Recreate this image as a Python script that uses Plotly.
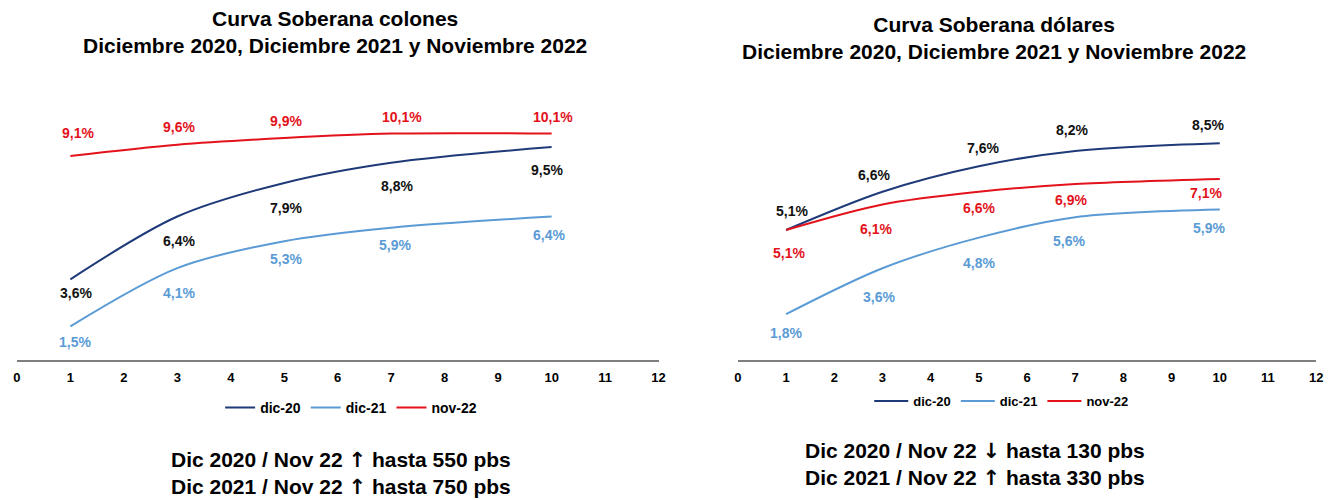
import plotly.graph_objects as go

plazos = [1, 3, 5, 7, 10]
x_ticks = list(range(0, 13))

# Curva colones
col_dic20 = [3.6, 6.4, 7.9, 8.8, 9.5]
col_dic21 = [1.5, 4.1, 5.3, 5.9, 6.4]
col_nov22 = [9.1, 9.6, 9.9, 10.1, 10.1]

# Curva dólares
usd_dic20 = [5.1, 6.6, 7.6, 8.2, 8.5]
usd_dic21 = [1.8, 3.6, 4.8, 5.6, 5.9]
usd_nov22 = [5.1, 6.1, 6.6, 6.9, 7.1]

series_names = ["dic-20", "dic-21", "nov-22"]
line_colors = ["#1f3a78", "#5b9bd5", "#e3121b"]
label_colors = ["#111111", "#5b9bd5", "#e3121b"]

# label placement (pixels, style only)
left_dy = [[-14, -24, -25, -23, -23],
           [-16, -25, -18, -17, -18],
           [23, 18, 17, 17, 17]]
left_dx = [[6, 2, 2, 6, -5], [5, 2, 2, 4, -3], [8, 2, 2, 11, 1]]
right_dy = [[19, 17, 18, 21, 18],
            [-19, -29, -25, -24, -18],
            [-23, -25, -16, -16, -14]]
right_dx = [[6, -8, 4, -3, -12], [0, -3, 0, -6, -11], [3, -6, 0, -4, -14]]

FONT = "Liberation Sans, DejaVu Sans, Arial, sans-serif"
UP = "<span style='font-family:DejaVu Sans'>↑</span>"
DOWN = "<span style='font-family:DejaVu Sans'>↓</span>"

fig = go.Figure()


def fmt(v):
    return f"{v:.1f}".replace(".", ",") + "%"


left = [col_dic20, col_dic21, col_nov22]
right = [usd_dic20, usd_dic21, usd_nov22]

annotations = []
for panel, (data, xa, ya, lg, dys, dxs) in enumerate([
        (left, "x", "y", "legend", left_dy, left_dx),
        (right, "x2", "y2", "legend2", right_dy, right_dx)]):
    for i, (name, vals) in enumerate(zip(series_names, data)):
        fig.add_trace(go.Scatter(x=plazos, y=vals, mode="lines", name=name,
                                 line=dict(color=line_colors[i], width=2, shape="spline", smoothing=0.9),
                                 xaxis=xa, yaxis=ya, legend=lg, hoverinfo="skip"))
        for j, (xx, yy) in enumerate(zip(plazos, vals)):
            annotations.append(dict(x=xx, y=yy, xref=xa, yref=ya, text="<b>" + fmt(yy) + "</b>",
                                    showarrow=False, yshift=dys[i][j], xshift=dxs[i][j],
                                    font=dict(family=FONT, size=14, color=label_colors[i])))

# Titles and summary text (y given in pixels from the top)
annotations += [
    dict(x=334 / 1340, y=32 / 500, xref="paper", yref="paper", showarrow=False,
         text="<b>Curva Soberana colones<br>Diciembre 2020, Diciembre 2021 y Noviembre 2022</b>",
         font=dict(family=FONT, size=21, color="#000"), xanchor="center", yanchor="middle"),
    dict(x=998 / 1340, y=38 / 500, xref="paper", yref="paper", showarrow=False,
         text="<b>Curva Soberana dólares<br>Diciembre 2020, Diciembre 2021 y Noviembre 2022</b>",
         font=dict(family=FONT, size=21, color="#000"), xanchor="center", yanchor="middle"),
    dict(x=340 / 1340, y=473.5 / 500, xref="paper", yref="paper", showarrow=False,
         text=f"<b>Dic 2020 / Nov 22 {UP} hasta 550 pbs<br>Dic 2021 / Nov 22 {UP} hasta 750 pbs</b>",
         font=dict(family=FONT, size=21, color="#000"), xanchor="center", yanchor="middle"),
    dict(x=979 / 1340, y=464.5 / 500, xref="paper", yref="paper", showarrow=False,
         text=f"<b>Dic 2020 / Nov 22 {DOWN} hasta 130 pbs<br>Dic 2021 / Nov 22 {UP} hasta 330 pbs</b>",
         font=dict(family=FONT, size=21, color="#000"), xanchor="center", yanchor="middle"),
]
for a in annotations:
    if a.get("yref") == "paper":
        a["y"] = 1 - a["y"]

xaxis_common = dict(range=[0, 12], tickvals=x_ticks, showgrid=False, zeroline=False,
                    showline=True, linecolor="#7f7f7f", linewidth=1.5, ticks="",
                    ticklabelstandoff=5,
                    tickfont=dict(family=FONT, size=13, color="#000", weight="bold"),
                    fixedrange=True)
yaxis_common = dict(showgrid=False, zeroline=False, showline=False, showticklabels=False,
                    fixedrange=True)

fig.update_layout(
    width=1340, height=500,
    margin=dict(l=0, r=0, t=0, b=0),
    paper_bgcolor="white", plot_bgcolor="white",
    showlegend=True,
    xaxis=dict(domain=[13 / 1340, 660 / 1340], anchor="y", **xaxis_common),
    yaxis=dict(domain=[140 / 500, 409 / 500], range=[0, 12], anchor="x", **yaxis_common),
    xaxis2=dict(domain=[740 / 1340, 1323 / 1340], anchor="y2", **xaxis_common),
    yaxis2=dict(domain=[140 / 500, 409 / 500], range=[0, 10.55], anchor="x2", **yaxis_common),
    legend=dict(orientation="h", x=350 / 1340, xanchor="center", y=1 - 408 / 500, yanchor="middle",
                font=dict(family=FONT, size=14, color="#000", weight="bold"),
                itemwidth=30, bgcolor="rgba(0,0,0,0)"),
    legend2=dict(orientation="h", x=1006 / 1340, xanchor="center", y=1 - 401 / 500, yanchor="middle",
                 font=dict(family=FONT, size=13, color="#000", weight="bold"),
                 itemwidth=34, bgcolor="rgba(0,0,0,0)"),
    annotations=annotations,
)

fig.write_html("out.html", config={"displayModeBar": False},
               post_script="document.body.style.margin='0';document.body.style.overflow='hidden';")
